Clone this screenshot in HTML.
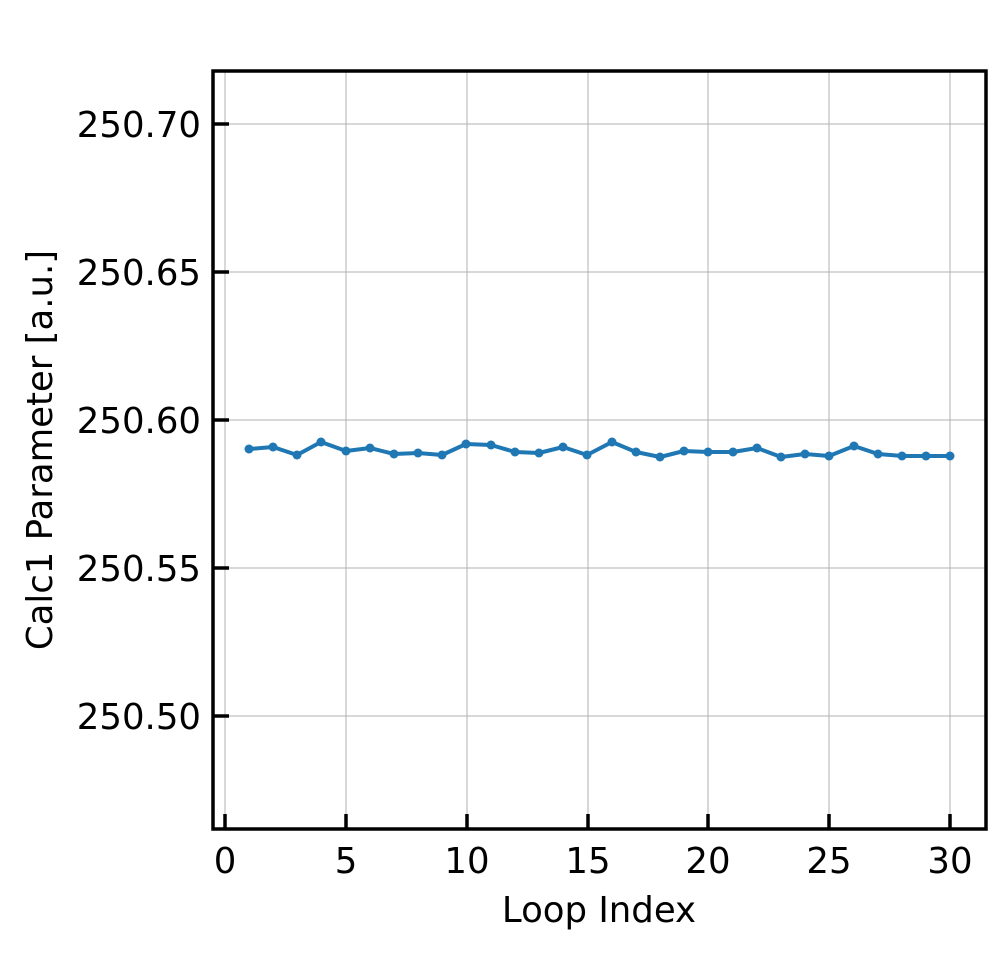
<!DOCTYPE html>
<html><head><meta charset="utf-8"><style>body{margin:0;background:#fff}svg{display:block}</style></head>
<body>
<svg width="1003" height="953" xmlns="http://www.w3.org/2000/svg" font-family="DejaVu Sans, Liberation Sans, sans-serif">
<rect width="1003" height="953" fill="#fff"/>
<g stroke="#b0b0b0" stroke-width="1">
<line x1="225" y1="71" x2="225" y2="829"/><line x1="346" y1="71" x2="346" y2="829"/><line x1="467" y1="71" x2="467" y2="829"/><line x1="588" y1="71" x2="588" y2="829"/><line x1="708" y1="71" x2="708" y2="829"/><line x1="829" y1="71" x2="829" y2="829"/><line x1="950" y1="71" x2="950" y2="829"/>
<line x1="213" y1="124" x2="986" y2="124"/><line x1="213" y1="272" x2="986" y2="272"/><line x1="213" y1="420" x2="986" y2="420"/><line x1="213" y1="568" x2="986" y2="568"/><line x1="213" y1="716" x2="986" y2="716"/>
</g>
<g stroke="#000" stroke-width="3.5">
<line x1="225" y1="829" x2="225" y2="814"/><line x1="346" y1="829" x2="346" y2="814"/><line x1="467" y1="829" x2="467" y2="814"/><line x1="588" y1="829" x2="588" y2="814"/><line x1="708" y1="829" x2="708" y2="814"/><line x1="829" y1="829" x2="829" y2="814"/><line x1="950" y1="829" x2="950" y2="814"/>
<line x1="213" y1="124" x2="229" y2="124"/><line x1="213" y1="272" x2="229" y2="272"/><line x1="213" y1="420" x2="229" y2="420"/><line x1="213" y1="568" x2="229" y2="568"/><line x1="213" y1="716" x2="229" y2="716"/>
</g>
<rect x="213" y="71" width="773" height="758" fill="none" stroke="#000" stroke-width="3.5"/>
<polyline fill="none" stroke="#1f77b4" stroke-width="4" stroke-linejoin="round" points="249,449 273,447 297,455 321,442 346,451 370,448 394,454 418,453 442,455 466,444 491,445 515,452 539,453 563,447 587,455 612,442 636,452 660,457 684,451 708,452 733,452 757,448 781,457 805,454 829,456 854,446 878,454 902,456 926,456 950,456"/>
<g fill="#1f77b4">
<circle cx="249" cy="449" r="4.5"/><circle cx="273" cy="447" r="4.5"/><circle cx="297" cy="455" r="4.5"/><circle cx="321" cy="442" r="4.5"/><circle cx="346" cy="451" r="4.5"/><circle cx="370" cy="448" r="4.5"/><circle cx="394" cy="454" r="4.5"/><circle cx="418" cy="453" r="4.5"/><circle cx="442" cy="455" r="4.5"/><circle cx="466" cy="444" r="4.5"/><circle cx="491" cy="445" r="4.5"/><circle cx="515" cy="452" r="4.5"/><circle cx="539" cy="453" r="4.5"/><circle cx="563" cy="447" r="4.5"/><circle cx="587" cy="455" r="4.5"/><circle cx="612" cy="442" r="4.5"/><circle cx="636" cy="452" r="4.5"/><circle cx="660" cy="457" r="4.5"/><circle cx="684" cy="451" r="4.5"/><circle cx="708" cy="452" r="4.5"/><circle cx="733" cy="452" r="4.5"/><circle cx="757" cy="448" r="4.5"/><circle cx="781" cy="457" r="4.5"/><circle cx="805" cy="454" r="4.5"/><circle cx="829" cy="456" r="4.5"/><circle cx="854" cy="446" r="4.5"/><circle cx="878" cy="454" r="4.5"/><circle cx="902" cy="456" r="4.5"/><circle cx="926" cy="456" r="4.5"/><circle cx="950" cy="456" r="4.5"/>
</g>
<g font-size="35.5" fill="#000" text-anchor="middle">
<text x="225" y="873">0</text><text x="346" y="873">5</text><text x="467" y="873">10</text><text x="588" y="873">15</text><text x="708" y="873">20</text><text x="829" y="873">25</text><text x="950" y="873">30</text>
</g>
<g font-size="35.5" fill="#000" text-anchor="end">
<text x="201" y="137">250.70</text><text x="201" y="285">250.65</text><text x="201" y="433">250.60</text><text x="201" y="581">250.55</text><text x="201" y="729">250.50</text>
</g>
<text x="599" y="922" font-size="35.5" text-anchor="middle">Loop Index</text>
<text transform="translate(52,450) rotate(-90)" font-size="35.5" text-anchor="middle">Calc1 Parameter [a.u.]</text>
</svg>
</body></html>
